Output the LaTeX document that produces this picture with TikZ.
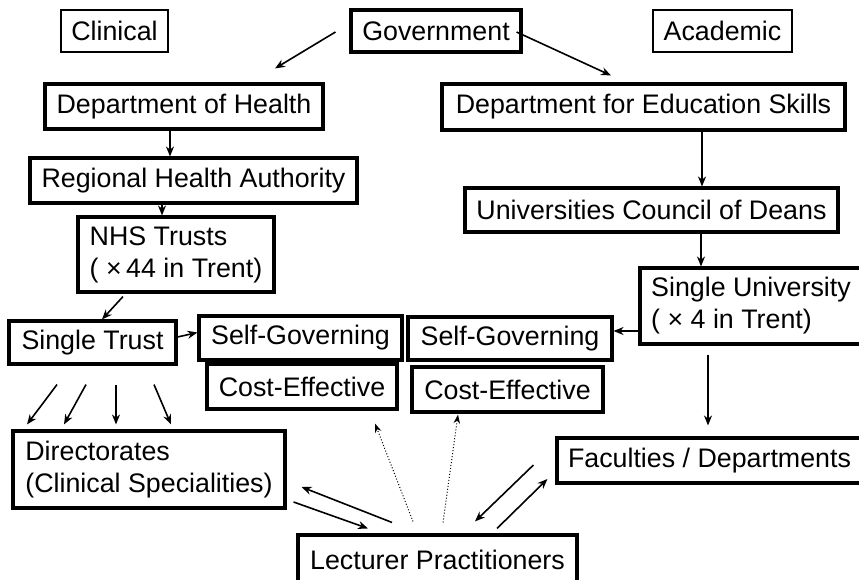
\documentclass[tikz,border=0pt]{standalone}
\usepackage{fontspec}
\setmainfont{Liberation Sans}
\usetikzlibrary{calc,arrows.meta}
\newcommand\chartfont{\fontsize{26.8}{32}\selectfont}
\begin{document}
\begin{tikzpicture}[x=1pt,y=-1pt,
  box/.style={draw, line width=3.1pt, inner sep=0pt, align=center, font=\chartfont},
  thinbox/.style={box, line width=1.3pt},
  leftbox/.style={box, align=left},
  arr/.style={line width=1.6pt, -{Stealth[length=10pt,width=8pt]}},
  dotarr/.style={line width=1pt, dotted, -{Stealth[length=9pt,width=6.5pt]}}]

% page frame
\fill[white] (0,0) rectangle (859,579);
\useasboundingbox (0,0) rectangle (859,579);

% top row
\node[thinbox, minimum width=107, minimum height=42] (clin) at (114.5,31) {Clinical};
\node[box, minimum width=170, minimum height=42] (gov) at (436,31) {Government};
\node[thinbox, minimum width=139, minimum height=42] (acad) at (722.5,31) {Academic};

% clinical side
\node[box, minimum width=278, minimum height=45] (doh) at (184,106.5) {Department of Health};
\node[box, minimum width=327, minimum height=45] (rha) at (193.5,180.5) {Regional Health Authority};
\node[leftbox, minimum width=196, minimum height=75] (nhs) at (176,254.5) {NHS Trusts\\( ×\,44 in Trent)};
\node[box, minimum width=167, minimum height=43] (st) at (92.5,342.5) {Single Trust};
\node[box, minimum width=203, minimum height=44] (sgl) at (300.5,338) {Self-Governing};
\node[box, minimum width=190, minimum height=45] (cel) at (302,386.5) {Cost-Effective};
\node[leftbox, minimum width=272, minimum height=77] (dir) at (149,469.5) {Directorates\\(Clinical Specialities)};

% academic side
\node[box, minimum width=403, minimum height=46] (dfes) at (643.5,107) {Department for Education Skills};
\node[box, minimum width=373, minimum height=44] (ucod) at (651.5,210) {Universities Council of Deans};
\node[leftbox, minimum width=222, minimum height=76] (su) at (751,306) {Single University\\( × 4 in Trent)};
\node[box, minimum width=204, minimum height=43] (sgr) at (510,338.5) {Self-Governing};
\node[box, minimum width=191, minimum height=45] (cer) at (507.5,389.5) {Cost-Effective};
\node[box, minimum width=305, minimum height=45] (fac) at (709.5,460.5) {Faculties / Departments};

% bottom
\node[box, minimum width=279, minimum height=49] (lec) at (437.5,559.5) {Lecturer Practitioners};

% government branches
\draw[arr] ($(gov.west)+(-14,1)$) -- ($(doh.north)+(91,-14)$);
\draw[arr] ($(gov.east)+(-6,1)$) -- ($(dfes.north)+(-32.5,-7)$);

% clinical chain
\draw[arr] ($(doh.south)+(-14,0)$) -- ($(rha.north)+(-23.5,0)$);
\draw[arr] ($(rha.south)+(-31.5,0)$) -- ($(nhs.north)+(-14,0)$);
\draw[arr] ($(nhs.south)+(-53,3)$) -- ($(st.north)+(9.5,0)$);
\draw[arr] ($(st.east)+(0,-5.5)$) -- ($(sgl.west)+(0,-5.5)$);
\draw[arr] ($(st.south)+(-35.5,19)$) -- ($(dir.north)+(-122,-5)$);
\draw[arr] ($(st.south)+(-6.5,19)$) -- ($(dir.north)+(-85,-5)$);
\draw[arr] ($(st.south)+(23.5,19)$) -- ($(dir.north)+(-33,-5)$);
\draw[arr] ($(st.south)+(61.5,19)$) -- ($(dir.north)+(22,-5)$);

% academic chain
\draw[arr] ($(dfes.south)+(58.5,0)$) -- ($(ucod.north)+(50.5,0)$);
\draw[arr] ($(ucod.south)+(49.5,0)$) -- ($(su.north)+(-50,0)$);
\draw[arr] ($(su.west)+(0,25)$) -- ($(sgr.east)+(0,-7.5)$);
\draw[arr] ($(su.south)+(-43,9)$) -- ($(fac.north)+(-1.5,-11)$);

% lecturer practitioners links
\draw[dotarr] ($(lec.north)+(-24.5,-12)$) -- ($(cel.south)+(73,13)$);
\draw[dotarr] ($(lec.north)+(5.5,-11)$) -- ($(cer.south)+(-49.5,1)$);
\draw[arr] ($(lec.north)+(-45.5,-11)$) -- ($(dir.east)+(15,17.5)$);
\draw[arr] ($(dir.east)+(7,32.5)$) -- ($(lec.north)+(-69.5,-5)$);
\draw[arr] ($(fac.west)+(-22,4.5)$) -- ($(lec.north)+(37.5,-12)$);
\draw[arr] ($(lec.north)+(59.5,-5)$) -- ($(fac.west)+(-8,18.5)$);
\end{tikzpicture}
\end{document}
